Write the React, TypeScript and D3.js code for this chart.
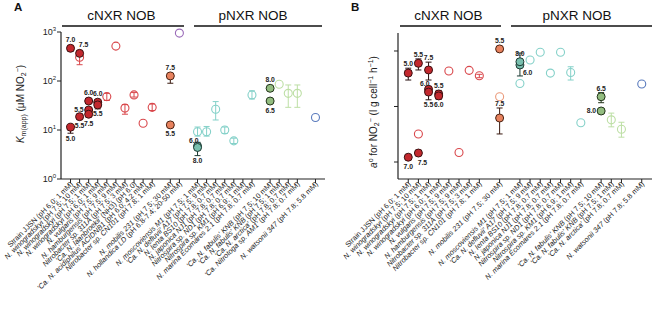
import React from 'react';
import * as d3 from 'd3';

const W = 666, H = 309;
const FONT = "'Liberation Sans', Arial, Helvetica, sans-serif";

// ---------- categories ----------
const cnxrA1 = [
  "Strain JJSN (pH 6.0; 1 mM)",
  "N. winogradskyi (pH 7.5; 10 mM)",
  "N. winogradskyi (pH 7.5; 1 mM)",
  "N. winogradskyi (pH 6.0; 1 mM)",
  "N. vulgaris (pH 7.5; 9 mM)",
  "N. hamburgensis (pH 7.5; 9 mM)",
  "Nitrobacter sp. 311A (pH 7.5; 3 mM)",
  "'Ca. N. laanbroekii' (NH3) (pH 6.0)",
  "'Ca. N. acidiphilus' ACIDNB1 (pH 6.0; 4.2 mM)",
  "Nitrobacter sp. CN101 (pH 7.8; 1 mM)",
];
const cnxrA2 = ["N. mobilis 231 (pH 7.5; 30 mM)", "N. hollandica LD (pH 6.8-7.4; 20-50 mM)"];
const pnxrA1 = [
  "N. moscoviensis M1 (pH 7.5; 1 mM)",
  "'Ca. N. defluvii' A17 (pH 7.5; 9 mM)",
  "N. lenta BS10 (pH 7.8; 0.7 mM)",
  "N. japonica NJ1 (pH 7.8; 0.7 mM)",
  "Nitrospira sp. ND1 (pH 7.8; 0.7 mM)",
  "Nitrospira sp. KM1 (pH 6.9; 1 mM)",
  "N. marina Ecomares 2.1 (pH 7.8; 0.7 mM)",
];
const pnxrA2 = [
  "'Ca. N. fabulis' KNB (pH 7.5; 10 mM)",
  "'Ca. N. fabulis' KNB (pH 7.5; 1 mM)",
  "'Ca. N. arctica' (pH 7.8; 0.7 mM)",
  "'Ca. Nitrotoga sp. AM1' (pH 7.8; 0.7 mM)",
];
const pnxrA3 = ["N. watsonii 347 (pH 7.8; 5.8 mM)"];

const cnxrB1 = [
  "Strain JJSN (pH 6.0; 1 mM)",
  "N. winogradskyi (pH 7.5; 10 mM)",
  "N. winogradskyi (pH 7.5; 1 mM)",
  "N. winogradskyi (pH 6.0; 1 mM)",
  "N. vulgaris (pH 7.5; 9 mM)",
  "N. hamburgensis (pH 7.5; 9 mM)",
  "Nitrobacter sp. 311A (pH 7.5; 3 mM)",
  "Nitrobacter sp. CN101 (pH 7.8; 1 mM)",
];
const cnxrB2 = ["N. mobilis 231 (pH 7.5; 30 mM)"];
const pnxrB1 = pnxrA1;
const pnxrB2 = [
  "'Ca. N. fabulis' KNB (pH 7.5; 10 mM)",
  "'Ca. N. fabulis' KNB (pH 7.5; 1 mM)",
  "'Ca. N. arctica' (pH 7.8; 0.7 mM)",
];
const pnxrB3 = ["N. watsonii 347 (pH 7.8; 5.8 mM)"];

// ---------- values ----------
type Pt = { c: number; v: number; lo?: number; hi?: number; s: string; lab?: string; lp?: string };

// Km(app) in µM NO2-
const kmPoints: Pt[] = [
  { c: 0, v: 465, lo: 410, hi: 520, s: 'cF', lab: '7.0', lp: 'a' },
  { c: 0, v: 11.4, lo: 8.6, hi: 12.8, s: 'cF', lab: '5.0', lp: 'b' },
  { c: 1, v: 305, lo: 215, hi: 335, s: 'cO' },
  { c: 1, v: 367, lo: 330, hi: 410, s: 'cF', lab: '7.5', lp: 'ar' },
  { c: 1, v: 18.7, lo: 17, hi: 20.5, s: 'cF', lab: '5.5', lp: 'b' },
  { c: 2, v: 39, lo: 35, hi: 43, s: 'cF', lab: '6.0', lp: 'a' },
  { c: 2, v: 25.6, lo: 23, hi: 28, s: 'cF', lab: '5.5', lp: 'l' },
  { c: 2, v: 21, lo: 18.5, hi: 23, s: 'cF', lab: '7.5', lp: 'b' },
  { c: 3, v: 37, lo: 33, hi: 41, s: 'cF', lab: '6.0', lp: 'a' },
  { c: 3, v: 32.5, lo: 27, hi: 36, s: 'cF', lab: '5.5', lp: 'b' },
  { c: 4, v: 48, lo: 40, hi: 56, s: 'cO' },
  { c: 5, v: 515, s: 'cO' },
  { c: 6, v: 28, lo: 21, hi: 33, s: 'cO' },
  { c: 7, v: 52, lo: 47, hi: 58, s: 'cO' },
  { c: 8, v: 13.7, s: 'cO' },
  { c: 9, v: 29, lo: 25, hi: 34, s: 'cO' },
  { c: 10, v: 127, lo: 90, hi: 140, s: 'mF', lab: '7.5', lp: 'a' },
  { c: 10, v: 12.7, s: 'mF', lab: '5.5', lp: 'b' },
  { c: 11, v: 950, s: 'hO' },
  { c: 12, v: 9.2, lo: 7.5, hi: 11.5, s: 'tO' },
  { c: 12, v: 4.7, s: 'tF', lab: '6.0', lp: 'al' },
  { c: 12, v: 4.4, lo: 3.0, hi: 5.6, s: 'tF', lab: '8.0', lp: 'b' },
  { c: 13, v: 9.2, lo: 7.5, hi: 11.8, s: 'tO' },
  { c: 14, v: 26.5, lo: 16, hi: 38, s: 'tO' },
  { c: 15, v: 10, lo: 8.5, hi: 11.5, s: 'tO' },
  { c: 16, v: 6, lo: 5.3, hi: 6.8, s: 'tO' },
  { c: 18, v: 52, lo: 43, hi: 63, s: 'tO' },
  { c: 19, v: 71, lo: 66, hi: 77, s: 'gF', lab: '8.0', lp: 'a' },
  { c: 19, v: 39, lo: 36, hi: 43, s: 'gF', lab: '6.5', lp: 'b' },
  { c: 20, v: 86, s: 'lgO' },
  { c: 21, v: 56, lo: 29, hi: 83, s: 'lgO' },
  { c: 22, v: 56, lo: 29, hi: 83, s: 'lgO' },
  { c: 23, v: 18, s: 'bO' },
];

// a° for NO2- (l g cell-1 h-1)
const aPoints: Pt[] = [
  { c: 0, v: 4.0e-14, lo: 3.0e-14, hi: 4.9e-14, s: 'cF', lab: '5.0', lp: 'a' },
  { c: 0, v: 1.22e-15, lo: 1.12e-15, hi: 1.32e-15, s: 'cF', lab: '7.0', lp: 'b' },
  { c: 1, v: 6.0e-14, lo: 4.55e-14, hi: 7.2e-14, s: 'cF', lab: '5.5', lp: 'a' },
  { c: 1, v: 3.2e-15, s: 'cO' },
  { c: 1, v: 1.45e-15, lo: 1.3e-15, hi: 1.63e-15, s: 'cF', lab: '7.5', lp: 'br' },
  { c: 2, v: 4.55e-14, lo: 3.0e-14, hi: 6.3e-14, s: 'cF', lab: '7.5', lp: 'a' },
  { c: 2, v: 2.04e-14, lo: 1.8e-14, hi: 2.3e-14, s: 'cF', lab: '6.0', lp: 'al' },
  { c: 2, v: 1.82e-14, lo: 1.32e-14, hi: 2.0e-14, s: 'cF', lab: '5.5', lp: 'b' },
  { c: 3, v: 1.68e-14, lo: 1.5e-14, hi: 1.95e-14, s: 'cF', lab: '5.5', lp: 'a' },
  { c: 3, v: 1.55e-14, lo: 1.35e-14, hi: 1.7e-14, s: 'cF', lab: '6.0', lp: 'b' },
  { c: 4, v: 4.36e-14, s: 'cO' },
  { c: 5, v: 1.48e-15, s: 'cO' },
  { c: 6, v: 4.48e-14, s: 'cO' },
  { c: 7, v: 3.59e-14, lo: 3.3e-14, hi: 3.8e-14, s: 'cO' },
  { c: 8, v: 1.09e-13, lo: 9.8e-14, hi: 1.2e-13, s: 'mF', lab: '5.5', lp: 'a' },
  { c: 8, v: 1.5e-14, s: 'mO' },
  { c: 8, v: 6.2e-15, lo: 3.2e-15, hi: 9.4e-15, s: 'mF', lab: '7.5', lp: 'a' },
  { c: 9, v: 2.6e-14, s: 'tO' },
  { c: 9, v: 5.6e-14, lo: 3.55e-14, hi: 9.2e-14, s: 'tF', lab: '6.0', lp: 'rb' },
  { c: 9, v: 6.4e-14, s: 'tF', lab: '8.0', lp: 'a' },
  { c: 10, v: 6.9e-14, s: 'tO' },
  { c: 11, v: 9.5e-14, s: 'tO' },
  { c: 12, v: 4.0e-14, s: 'tO' },
  { c: 13, v: 9.5e-14, s: 'tO' },
  { c: 14, v: 4.1e-14, lo: 3.0e-14, hi: 5.2e-14, s: 'tO' },
  { c: 15, v: 5.1e-15, s: 'tO' },
  { c: 16, v: 1.5e-14, lo: 1.17e-14, hi: 1.78e-14, s: 'gF', lab: '6.5', lp: 'a' },
  { c: 16, v: 8.3e-15, lo: 7.8e-15, hi: 8.8e-15, s: 'gF', lab: '8.0', lp: 'l' },
  { c: 17, v: 5.75e-15, lo: 4.3e-15, hi: 7.6e-15, s: 'lgO' },
  { c: 18, v: 3.9e-15, lo: 2.8e-15, hi: 5.2e-15, s: 'lgO' },
  { c: 19, v: 2.54e-14, s: 'bO' },
];

const kmTicks = [1, 10, 100, 1000];
const aTicks = [1e-15, 1e-14, 1e-13];

const STYLES: Record<string, { fill: string; stroke: string; err: string }> = {
  cF: { fill: '#c3282e', stroke: '#3a1212', err: '#2a1010' },
  cO: { fill: '#fff', stroke: '#d9474b', err: '#d9474b' },
  mF: { fill: '#e8825e', stroke: '#4a2212', err: '#3a1a10' },
  mO: { fill: '#fff', stroke: '#eb9a7a', err: '#eb9a7a' },
  hO: { fill: '#fff', stroke: '#9a6ab8', err: '#9a6ab8' },
  tF: { fill: '#78bfae', stroke: '#1d3a33', err: '#1d3a33' },
  tO: { fill: '#fff', stroke: '#85d1c9', err: '#85d1c9' },
  gF: { fill: '#93bd80', stroke: '#22331a', err: '#22331a' },
  lgO: { fill: '#fff', stroke: '#bddfa5', err: '#bddfa5' },
  bO: { fill: '#fff', stroke: '#5a7bbd', err: '#5a7bbd' },
};

function buildDomain(groups: string[][]) {
  const dom: string[] = [];
  groups.forEach((g, i) => {
    if (i > 0) dom.push(`__gap${i}`);
    g.forEach((n, j) => dom.push(`${i}|${j}|${n}`));
  });
  return dom;
}

function CatLabel({ name }: { name: string }) {
  const k = name.indexOf(' (');
  const head = k >= 0 ? name.slice(0, k) : name;
  const tail = k >= 0 ? name.slice(k) : '';
  const ital = !head.startsWith('Strain');
  return (
    <>
      <tspan fontStyle={ital ? 'italic' : 'normal'}>{head}</tspan>
      <tspan>{tail}</tspan>
    </>
  );
}

type PanelProps = {
  groups: string[][];
  points: Pt[];
  x0: number; x1: number; pad: number;
  yDomain: [number, number]; yTop: number;
  ticks: number[]; tickLabels: boolean;
  letter: string; letterX: number;
  headers: { text: string; lx1: number; lx2: number; tx: number }[];
  title: React.ReactNode;
};

const Y0 = 179;

function Panel(p: PanelProps) {
  const domain = buildDomain(p.groups);
  const flat = domain.filter((d) => !d.startsWith('__gap'));
  const x = d3.scalePoint<string>().domain(domain).range([p.x0, p.x1]).padding(p.pad);
  const y = d3.scaleLog().domain(p.yDomain).range([Y0, p.yTop]);
  const r = 4;
  return (
    <g fontFamily={FONT}>
      <text x={p.letterX} y={11} fontSize={11.5} fontWeight="bold" fill="#111">{p.letter}</text>
      {p.headers.map((h) => (
        <g key={h.text}>
          <text x={h.tx} y={20} fontSize={13.5} textAnchor="middle" fill="#111">{h.text}</text>
          <line x1={h.lx1} x2={h.lx2} y1={26} y2={26} stroke="#111" strokeWidth={1.3} />
        </g>
      ))}
      {/* axes */}
      <line x1={p.x0} x2={p.x0} y1={p.yTop} y2={Y0} stroke="#222" strokeWidth={1.2} />
      <line x1={p.x0} x2={p.x1} y1={Y0} y2={Y0} stroke="#222" strokeWidth={1.2} />
      {p.ticks.map((t) => (
        <g key={t}>
          <line x1={p.x0 - 4} x2={p.x0} y1={y(t)} y2={y(t)} stroke="#222" strokeWidth={1} />
          {p.tickLabels && (
            <text x={p.x0 - 5} y={y(t) + 3} fontSize={9} textAnchor="end" fill="#222">
              10<tspan fontSize={6} dy={-4}>{Math.round(Math.log10(t))}</tspan>
            </text>
          )}
        </g>
      ))}
      {flat.map((d) => {
        const name = d.split('|').slice(2).join('|');
        const xx = x(d)!;
        return (
          <g key={d}>
            <line x1={xx} x2={xx} y1={Y0} y2={Y0 + 4} stroke="#222" strokeWidth={1} />
            <text transform={`translate(${xx + 3},${Y0 + 5.5}) rotate(-45)`} fontSize={7.3} textAnchor="end" fill="#222">
              <CatLabel name={name} />
            </text>
          </g>
        );
      })}
      {p.title}
      {/* error bars */}
      {p.points.filter((q) => q.lo !== undefined).map((q, i) => {
        const cx = x(flat[q.c])!;
        const st = STYLES[q.s];
        return (
          <g key={'e' + i} stroke={st.err} strokeWidth={1}>
            <line x1={cx} x2={cx} y1={y(q.lo!)} y2={y(q.hi!)} />
            <line x1={cx - 3} x2={cx + 3} y1={y(q.lo!)} y2={y(q.lo!)} />
            <line x1={cx - 3} x2={cx + 3} y1={y(q.hi!)} y2={y(q.hi!)} />
          </g>
        );
      })}
      {p.points.map((q, i) => {
        const cx = x(flat[q.c])!;
        const st = STYLES[q.s];
        const filled = q.s.endsWith('F');
        return (
          <circle key={'c' + i} cx={cx} cy={y(q.v)} r={r} fill={filled ? st.fill : 'none'} stroke={st.stroke} strokeWidth={filled ? 1 : 1.1} />
        );
      })}
      {p.points.filter((q) => q.lab).map((q, i) => {
        const cx = x(flat[q.c])!;
        const cy = y(q.v);
        const top = Math.min(cy - r, q.hi !== undefined ? y(q.hi) : cy);
        const bot = Math.max(cy + r, q.lo !== undefined ? y(q.lo) : cy);
        let tx = cx, ty = top - 2, anchor = 'middle';
        switch (q.lp) {
          case 'b': ty = bot + 7.5; break;
          case 'ar': tx = cx + 4; break;
          case 'br': tx = cx + 4; ty = bot + 7.5; break;
          case 'l': tx = cx - r - 1; ty = cy + 2.5; anchor = 'end'; break;
          case 'al': tx = cx + 1; ty = cy - 3; anchor = 'end'; break;
          case 'rb': tx = cx + 3; ty = cy + 10; anchor = 'start'; break;
        }
        return (
          <text key={'l' + i} x={tx} y={ty} fontSize={6.8} fontWeight="bold" textAnchor={anchor} fill="#222">{q.lab}</text>
        );
      })}
    </g>
  );
}

export default function App() {
  const titleA = (
    <text transform="translate(23.5,104) rotate(-90)" fontSize={10} textAnchor="middle" fill="#222" fontFamily={FONT}>
      <tspan fontStyle="italic">K</tspan>
      <tspan fontSize={7} dy={2.5}>m(app)</tspan>
      <tspan dy={-2.5}> (μM NO</tspan>
      <tspan fontSize={7} dy={2.5}>2</tspan>
      <tspan fontSize={7} dy={-6}>−</tspan>
      <tspan dy={3.5}>)</tspan>
    </text>
  );
  const titleB = (
    <text transform="translate(376.5,112) rotate(-90)" fontSize={10} textAnchor="middle" fill="#222" fontFamily={FONT}>
      <tspan fontStyle="italic">a</tspan>
      <tspan fontSize={7} dy={-4}>o</tspan>
      <tspan dy={4}> for NO</tspan>
      <tspan fontSize={7} dy={2.5}>2</tspan>
      <tspan fontSize={7} dy={-6}>−</tspan>
      <tspan dy={3.5}> (l g cell</tspan>
      <tspan fontSize={7} dy={-4}>−1</tspan>
      <tspan dy={4}> h</tspan>
      <tspan fontSize={7} dy={-4}>−1</tspan>
      <tspan dy={4}>)</tspan>
    </text>
  );
  return (
    <svg width={W} height={H} style={{ position: 'absolute', left: 0, top: 0, background: '#fff' }}>
      <Panel
        groups={[cnxrA1, cnxrA2, pnxrA1, pnxrA2, pnxrA3]}
        points={kmPoints}
        x0={61} x1={325} pad={1.05}
        yDomain={[1, 1000]} yTop={32}
        ticks={kmTicks} tickLabels={true}
        letter="A" letterX={14}
        headers={[
          { text: 'cNXR NOB', lx1: 62, lx2: 184, tx: 121.5 },
          { text: 'pNXR NOB', lx1: 194, lx2: 322, tx: 253 },
        ]}
        title={titleA}
      />
      <Panel
        groups={[cnxrB1, cnxrB2, pnxrB1, pnxrB2, pnxrB3]}
        points={aPoints}
        x0={398} x1={652} pad={1.01}
        yDomain={[4.94e-16, 2.11e-13]} yTop={33}
        ticks={aTicks} tickLabels={false}
        letter="B" letterX={351}
        headers={[
          { text: 'cNXR NOB', lx1: 400, lx2: 501, tx: 448.5 },
          { text: 'pNXR NOB', lx1: 511, lx2: 652, tx: 577 },
        ]}
        title={titleB}
      />
    </svg>
  );
}
